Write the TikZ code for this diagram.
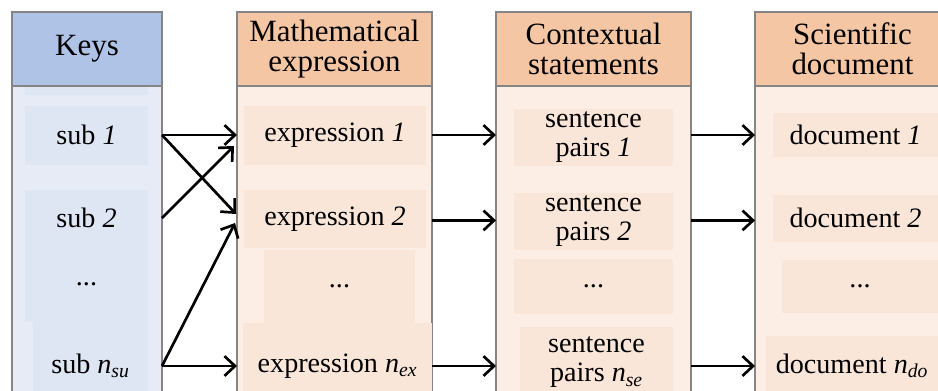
\documentclass[tikz,border=0pt]{standalone}
\usepackage{fontspec}
\setmainfont{Liberation Serif}
\usepackage{xcolor}
\usepackage{tikz}
\usetikzlibrary{arrows.meta, positioning}

\definecolor{keyhead}{HTML}{AFC3E6}
\definecolor{keybody}{HTML}{E6EBF6}
\definecolor{keyitem}{HTML}{DEE5F3}
\definecolor{stephead}{HTML}{F5C6A4}
\definecolor{stepbody}{HTML}{FCEEE5}
\definecolor{stepitem}{HTML}{FAE6D9}
\definecolor{framegray}{HTML}{858585}

\tikzset{
  colbox/.style n args={3}{draw=framegray, line width=0.8pt, fill=#1,
    inner sep=0pt, outer sep=0pt,
    minimum width=#2*0.025cm, minimum height=#3*0.025cm},
  itembox/.style n args={3}{fill=#1, draw=none, inner sep=0pt, outer sep=0pt,
    align=center, font=\fontsize{20}{21}\selectfont,
    minimum width=#2*0.025cm, minimum height=#3*0.025cm},
  headtext/.style={align=center, font=\fontsize{22}{21.5}\selectfont},
  flow/.style={->, line width=1.9pt},
}

\begin{document}
\begin{tikzpicture}[x=0.025cm, y=-0.025cm, >={Straight Barb[length=7.5pt, width=14pt]}]

    \useasboundingbox (0,0) rectangle (938,390);
    \clip (0,0) rectangle (938,390);

    % column bodies
    \node[colbox={keybody}{150}{314}] (keys) at (87,243) {};
    \node[colbox={stepbody}{195}{314}] (expr) at (334.5,243) {};
    \node[colbox={stepbody}{195}{314}] (sent) at (593.5,243) {};
    \node[colbox={stepbody}{195}{314}] (docs) at (852.5,243) {};

    \fill[keyitem] (25,86) rectangle (148,95);

    % column heads
    \node[colbox={keyhead}{150}{74}, headtext] (keyshead) at (87,49) {Keys};
    \node[colbox={stephead}{195}{74}, headtext] (exprhead) at (334.5,49) {Mathematical\\expression};
    \node[colbox={stephead}{195}{74}, headtext] (senthead) at (593.5,49) {Contextual\\statements};
    \node[colbox={stephead}{195}{74}, headtext] (docshead) at (852.5,49) {Scientific\\document};

    % items
    \node[itembox={keyitem}{123}{59}] (sub1) at (86.5,135) {sub \textit{1}};
    \node[itembox={keyitem}{123}{56}] (sub2) at (86.5,218) {sub \textit{2}};
    \node[itembox={keyitem}{123}{76}] (sub3) at (86.5,284) {...};
    \node[itembox={keyitem}{115}{88}] (subn) at (90.5,366) {sub \textit{n}\textsubscript{\textit{su}}};

    \node[itembox={stepitem}{182}{59}] (ex1) at (335,135) {expression \textit{1}};
    \node[itembox={stepitem}{182}{58}] (ex2) at (335,219) {expression \textit{2}};
    \node[itembox={stepitem}{151}{73}] (ex3) at (339.5,286) {...};
    \node[itembox={stepitem}{189}{86}] (exn) at (337.5,366) {expression \textit{n}\textsubscript{\textit{ex}}};

    \node[itembox={stepitem}{159}{57}] (se1) at (593.5,137) {sentence\\pairs \textit{1}};
    \node[itembox={stepitem}{159}{57}] (se2) at (593.5,221) {sentence\\pairs \textit{2}};
    \node[itembox={stepitem}{159}{55}] (se3) at (593.5,286) {...};
    \node[itembox={stepitem}{153}{70}] (sen) at (596.5,362) {sentence\\pairs \textit{n}\textsubscript{\textit{se}}};

    \node[itembox={stepitem}{165}{44}] (do1) at (855.5,135) {document \textit{1}};
    \node[itembox={stepitem}{165}{47}] (do2) at (855.5,218) {document \textit{2}};
    \node[itembox={stepitem}{156}{53}] (do3) at (860,286) {...};
    \node[itembox={stepitem}{172}{60}] (don) at (852,366) {document \textit{n}\textsubscript{\textit{do}}};

    \coordinate (in1) at (234,146);
    \coordinate (in2) at (236,214);
    \coordinate (in3) at (235,223);

    % links
    \draw[flow] (sub1 -| keys.east) -- (ex1 -| expr.west);
    \draw[flow] (sub1 -| keys.east) -- (in2);
    \draw[flow] (sub2 -| keys.east) -- (in1);
    \draw[flow] (subn -| keys.east) -- (in3);
    \draw[flow] (subn -| keys.east) -- (exn -| expr.west);

    \draw[flow] (ex1 -| expr.east) -- (ex1 -| sent.west);
    \draw[flow] ([yshift=-1pt]ex2.center -| expr.east) -- ([yshift=-1pt]ex2.center -| sent.west);
    \draw[flow] (exn -| expr.east) -- (exn -| sent.west);

    \draw[flow] (ex1 -| sent.east) -- (ex1 -| docs.west);
    \draw[flow] ([yshift=-1pt]ex2.center -| sent.east) -- ([yshift=-1pt]ex2.center -| docs.west);
    \draw[flow] (exn -| sent.east) -- (exn -| docs.west);

    \end{tikzpicture}
\end{document}
